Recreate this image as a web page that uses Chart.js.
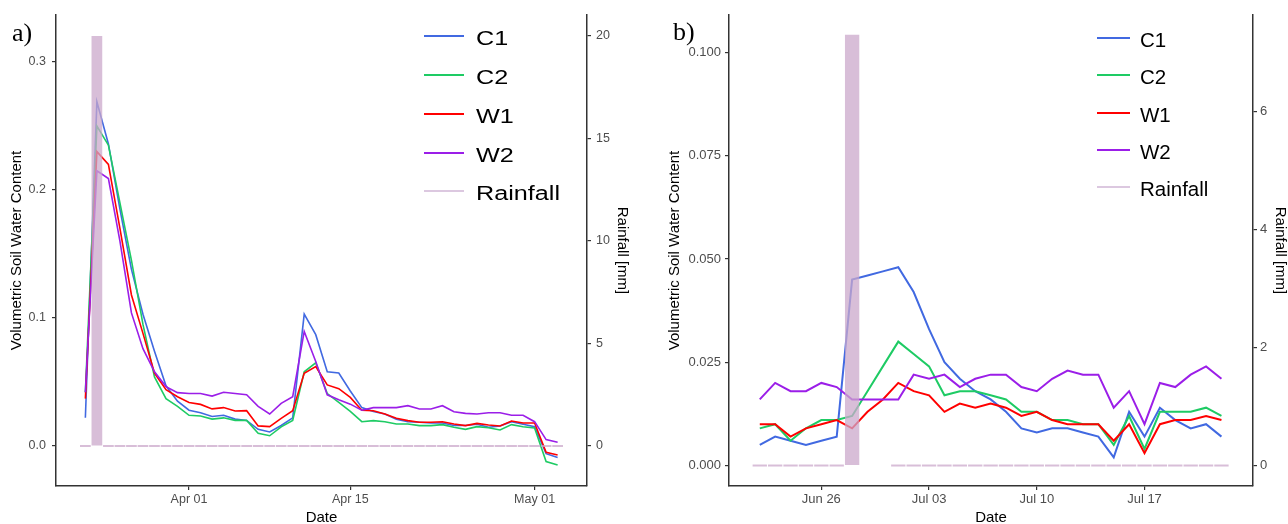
<!DOCTYPE html>
<html>
<head>
<meta charset="utf-8">
<title>Soil water content and rainfall</title>
<script src="https://cdn.jsdelivr.net/npm/chart.js@4.4.1/dist/chart.umd.min.js"></script>
<style>
  html, body { margin: 0; padding: 0; background: #fff; overflow: hidden; }
  canvas { position: absolute; top: 0; }
  #chartA { left: 0; }
  #chartB { left: 644px; }
</style>
</head>
<body>
<canvas id="chartA" width="644" height="528"></canvas>
<canvas id="chartB" width="644" height="528"></canvas>
<script>
// ---- panel a: late March to early May ----
const datesA = [
  "03-23", "03-24", "03-25", "03-26", "03-27", "03-28", "03-29", "03-30", "03-31",
  "04-01", "04-02", "04-03", "04-04", "04-05", "04-06", "04-07", "04-08", "04-09", "04-10",
  "04-11", "04-12", "04-13", "04-14", "04-15", "04-16", "04-17", "04-18", "04-19", "04-20",
  "04-21", "04-22", "04-23", "04-24", "04-25", "04-26", "04-27", "04-28", "04-29", "04-30",
  "05-01", "05-02", "05-03"
];
const c1A = [
  0.022, 0.269, 0.236, 0.185, 0.138, 0.103, 0.074, 0.047, 0.035,
  0.028, 0.026, 0.023, 0.024, 0.021, 0.020, 0.013, 0.011, 0.016, 0.022,
  0.103, 0.087, 0.058, 0.057, 0.043, 0.030, 0.027, 0.025, 0.021, 0.019,
  0.0185, 0.018, 0.018, 0.016, 0.016, 0.017, 0.0146, 0.0156, 0.019, 0.017,
  0.015, -0.006, -0.009
];
const c2A = [
  0.042, 0.250, 0.235, 0.190, 0.145, 0.095, 0.054, 0.037, 0.031,
  0.024, 0.0234, 0.021, 0.022, 0.020, 0.020, 0.010, 0.008, 0.015, 0.020,
  0.058, 0.065, 0.041, 0.034, 0.027, 0.019, 0.0198, 0.019, 0.0172, 0.0172,
  0.0159, 0.0159, 0.0167, 0.0146, 0.013, 0.0151, 0.0143, 0.0125, 0.0167, 0.0151,
  0.014, -0.0122, -0.0148
];
const w1A = [
  0.037, 0.230, 0.220, 0.170, 0.118, 0.088, 0.057, 0.044, 0.0385,
  0.034, 0.0325, 0.029, 0.030, 0.0273, 0.0276, 0.0157, 0.0151, 0.0216, 0.0276,
  0.0568, 0.062, 0.0477, 0.0448, 0.038, 0.028, 0.0276, 0.025, 0.0216, 0.0198,
  0.0185, 0.0185, 0.019, 0.0172, 0.0159, 0.0177, 0.0164, 0.0156, 0.0195, 0.018,
  0.018, -0.005, -0.007
];
const w2A = [
  0.042, 0.215, 0.209, 0.160, 0.104, 0.076, 0.058, 0.0464, 0.0417,
  0.041, 0.041, 0.039, 0.042, 0.041, 0.040, 0.031, 0.025, 0.0333, 0.0385,
  0.0895, 0.066, 0.040, 0.0362, 0.0327, 0.028, 0.030, 0.030, 0.030, 0.0315,
  0.0289, 0.0289, 0.0315, 0.0268, 0.0255, 0.025, 0.026, 0.026, 0.024, 0.024,
  0.019, 0.005, 0.003
];
const rainA = [
  0, 20, 0, 0, 0, 0, 0, 0, 0,
  0, 0, 0, 0, 0, 0, 0, 0, 0, 0,
  0, 0, 0, 0, 0, 0, 0, 0, 0, 0,
  0, 0, 0, 0, 0, 0, 0, 0, 0, 0,
  0, 0, 0
];
const dateTicksA = ["04-01", "04-15", "05-01"];
const vwcTicksA = [0, 0.1, 0.2, 0.3];
const rainTicksA = [0, 5, 10, 15, 20];

// ---- panel b: late June to late July ----
const datesB = [
  "06-22", "06-23", "06-24", "06-25", "06-26", "06-27", "06-28", "06-29", "06-30",
  "07-01", "07-02", "07-03", "07-04", "07-05", "07-06", "07-07", "07-08", "07-09", "07-10",
  "07-11", "07-12", "07-13", "07-14", "07-15", "07-16", "07-17", "07-18", "07-19", "07-20",
  "07-21", "07-22"
];
const c1B = [
  0.005, 0.007, 0.006, 0.005, 0.006, 0.007, 0.045, 0.046, 0.047,
  0.048, 0.042, 0.033, 0.025, 0.021, 0.018, 0.016, 0.013, 0.009, 0.008,
  0.009, 0.009, 0.008, 0.007, 0.002, 0.013, 0.007, 0.014, 0.011, 0.009,
  0.010, 0.007
];
const c2B = [
  0.009, 0.010, 0.006, 0.009, 0.011, 0.011, 0.012, 0.018, 0.024,
  0.030, 0.027, 0.024, 0.017, 0.018, 0.018, 0.017, 0.016, 0.013, 0.013,
  0.011, 0.011, 0.010, 0.010, 0.005, 0.012, 0.004, 0.013, 0.013, 0.013,
  0.014, 0.012
];
const w1B = [
  0.010, 0.010, 0.007, 0.009, 0.010, 0.011, 0.009, 0.013, 0.016,
  0.020, 0.018, 0.017, 0.013, 0.015, 0.014, 0.015, 0.014, 0.012, 0.013,
  0.011, 0.010, 0.010, 0.010, 0.006, 0.010, 0.003, 0.010, 0.011, 0.011,
  0.012, 0.011
];
const w2B = [
  0.016, 0.020, 0.018, 0.018, 0.020, 0.019, 0.016, 0.016, 0.016,
  0.016, 0.022, 0.021, 0.022, 0.019, 0.021, 0.022, 0.022, 0.019, 0.018,
  0.021, 0.023, 0.022, 0.022, 0.014, 0.018, 0.010, 0.020, 0.019, 0.022,
  0.024, 0.021
];
const rainB = [
  0, 0, 0, 0, 0, 0, 7.3, null, null,
  0, 0, 0, 0, 0, 0, 0, 0, 0, 0,
  0, 0, 0, 0, 0, 0, 0, 0, 0, 0,
  0, 0
];
const dateTicksB = ["06-26", "07-03", "07-10", "07-17"];
const vwcTicksB = [0, 0.025, 0.05, 0.075, 0.1];
const rainTicksB = [0, 2, 4, 6];

// ---- helpers ----
const MONTHS = ["Jan", "Feb", "Mar", "Apr", "May", "Jun", "Jul", "Aug", "Sep", "Oct", "Nov", "Dec"];
const YEAR0 = Date.UTC(2001, 0, 1);
const toDay = (s) => {
  const [m, d] = s.split("-").map(Number);
  return (Date.UTC(2001, m - 1, d) - YEAR0) / 864e5;
};
const dayLabel = (v) => {
  const dt = new Date(YEAR0 + v * 864e5);
  return MONTHS[dt.getUTCMonth()] + " " + String(dt.getUTCDate()).padStart(2, "0");
};

const SANS = '"Liberation Sans", Arial, sans-serif';
const AXIS = "#333333";
const TICK_TXT = "#4d4d4d";
const seriesColors = { C1: "#4169e1", C2: "#1ecb64", W1: "#ff0000", W2: "#9b1ee8" };
const rainFill = "rgba(203, 168, 203, 0.75)";
const rainKey = "#dcc8e0";

// panel letter plus the legend drawn inside the plot
const panelDecor = {
  id: "panelDecor",
  afterDraw(chart, args, opts) {
    const ctx = chart.ctx;
    ctx.save();
    ctx.fillStyle = "#000";
    ctx.textBaseline = "alphabetic";
    ctx.font = '26px "Liberation Serif", "Times New Roman", serif';
    ctx.fillText(opts.tag, opts.tagX, opts.tagY);

    chart.data.datasets.forEach((ds, i) => {
      const y = opts.rowY[i];
      ctx.strokeStyle = ds.legendColor || ds.borderColor;
      ctx.lineWidth = 2;
      ctx.beginPath();
      ctx.moveTo(opts.lineX[0], y);
      ctx.lineTo(opts.lineX[1], y);
      ctx.stroke();

      ctx.save();
      ctx.translate(opts.textX, y + 8.5);
      ctx.scale(opts.stretch, 1);
      ctx.font = opts.font;
      ctx.fillText(ds.label, 0, 0);
      ctx.restore();
    });
    ctx.restore();
  }
};

function axisCommon(tickSize, tickPad) {
  return {
    offset: false,
    grid: { offset: false, drawOnChartArea: false, drawTicks: true, tickLength: 4, color: AXIS, lineWidth: 1.2 },
    border: { display: true, color: AXIS, width: 1.5 },
    ticks: { color: TICK_TXT, font: { family: SANS, size: tickSize }, padding: tickPad, autoSkip: false, maxRotation: 0 }
  };
}

function buildChart(id, p) {
  const names = ["C1", "C2", "W1", "W2"];
  const lineSets = [p.c1, p.c2, p.w1, p.w2].map((vals, i) => ({
    type: "line",
    label: names[i],
    data: p.dates.map((d, j) => ({ x: toDay(d), y: vals[j] })),
    borderColor: seriesColors[names[i]],
    borderWidth: p.lineWidth,
    pointRadius: 0,
    tension: 0,
    fill: false,
    yAxisID: "y",
    order: 4 - i
  }));
  // daily rainfall; zero days still show as a thin strip at the baseline
  const rainSet = {
    type: "bar",
    label: "Rainfall",
    data: p.dates.map((d, j) => ({ x: toDay(d), y: p.rain[j] })),
    backgroundColor: rainFill,
    legendColor: rainKey,
    borderWidth: 0,
    minBarLength: 2,
    barPercentage: 0.93,
    categoryPercentage: 1,
    yAxisID: "y2",
    order: 0
  };

  const xAxis = axisCommon(p.tickSize, 2);
  const yAxis = axisCommon(p.tickSize, p.leftPad);
  const rAxis = axisCommon(p.tickSize, p.rightPad);

  return new Chart(document.getElementById(id), {
    type: "line",
    data: { datasets: [...lineSets, rainSet] },
    options: {
      responsive: false,
      animation: false,
      devicePixelRatio: 1,
      events: [],
      layout: { padding: { top: 15, left: 0, right: 0, bottom: 0 } },
      plugins: {
        legend: { display: false },
        tooltip: { enabled: false },
        panelDecor: p.decor
      },
      scales: {
        x: {
          ...xAxis,
          type: "linear",
          position: "bottom",
          min: toDay(p.dates[0]) - p.xPad[0],
          max: toDay(p.dates[p.dates.length - 1]) + p.xPad[1],
          afterBuildTicks: (s) => { s.ticks = p.xTicks.map((t) => ({ value: toDay(t) })); },
          afterFit: (s) => { s.height = 42; },
          ticks: { ...xAxis.ticks, callback: (v) => dayLabel(v) },
          title: { display: true, text: "Date", color: "#000", font: { family: SANS, size: 15 }, padding: { top: 0, bottom: 1 } }
        },
        y: {
          ...yAxis,
          type: "linear",
          position: "left",
          min: p.yRange[0],
          max: p.yRange[1],
          afterBuildTicks: (s) => { s.ticks = p.yTicks.map((v) => ({ value: v })); },
          afterFit: (s) => { s.width = p.leftW; },
          ticks: { ...yAxis.ticks, callback: (v) => v.toFixed(p.decimals) },
          title: { display: true, text: "Volumetric Soil Water Content", color: "#000", font: { family: SANS, size: 15 }, padding: { top: p.leftTitlePad, bottom: 0 } }
        },
        y2: {
          ...rAxis,
          type: "linear",
          position: "right",
          min: p.rRange[0],
          max: p.rRange[1],
          afterBuildTicks: (s) => { s.ticks = p.rTicks.map((v) => ({ value: v })); },
          afterFit: (s) => { s.width = p.rightW; },
          ticks: { ...rAxis.ticks, callback: (v) => String(v) },
          title: { display: true, text: "Rainfall [mm]", color: "#000", font: { family: SANS, size: 15 }, padding: { top: p.rightTitlePad, bottom: 0 } }
        }
      }
    },
    plugins: [panelDecor]
  });
}

buildChart("chartA", {
  dates: datesA, c1: c1A, c2: c2A, w1: w1A, w2: w2A, rain: rainA,
  xTicks: dateTicksA, yTicks: vwcTicksA, rTicks: rainTicksA,
  xPad: [2.55, 2.55],
  yRange: [-0.03125, 0.33672], rRange: [-1.951, 21.02],
  decimals: 1, tickSize: 12.5, lineWidth: 1.6,
  leftW: 56, rightW: 57, leftPad: 6, rightPad: 5,
  leftTitlePad: 8, rightTitlePad: 13,
  decor: {
    tag: "a)", tagX: 12, tagY: 41,
    lineX: [424, 464], textX: 476, rowY: [36, 75, 114, 153, 191],
    font: '20px "Liberation Sans", Arial, sans-serif', stretch: 1.26
  }
});

buildChart("chartB", {
  dates: datesB, c1: c1B, c2: c2B, w1: w1B, w2: w2B, rain: rainB,
  xTicks: dateTicksB, yTicks: vwcTicksB, rTicks: rainTicksB,
  xPad: [2.0, 2.05],
  yRange: [-0.00496, 0.10908], rRange: [-0.347, 7.636],
  decimals: 3, tickSize: 13, lineWidth: 2,
  leftW: 85, rightW: 35, leftPad: 4, rightPad: 3,
  leftTitlePad: 22, rightTitlePad: -1,
  decor: {
    tag: "b)", tagX: 29, tagY: 40,
    lineX: [453, 486], textX: 496, rowY: [38, 75, 113, 150, 187],
    font: '20.5px "Liberation Sans", Arial, sans-serif', stretch: 1
  }
});
</script>
</body>
</html>
